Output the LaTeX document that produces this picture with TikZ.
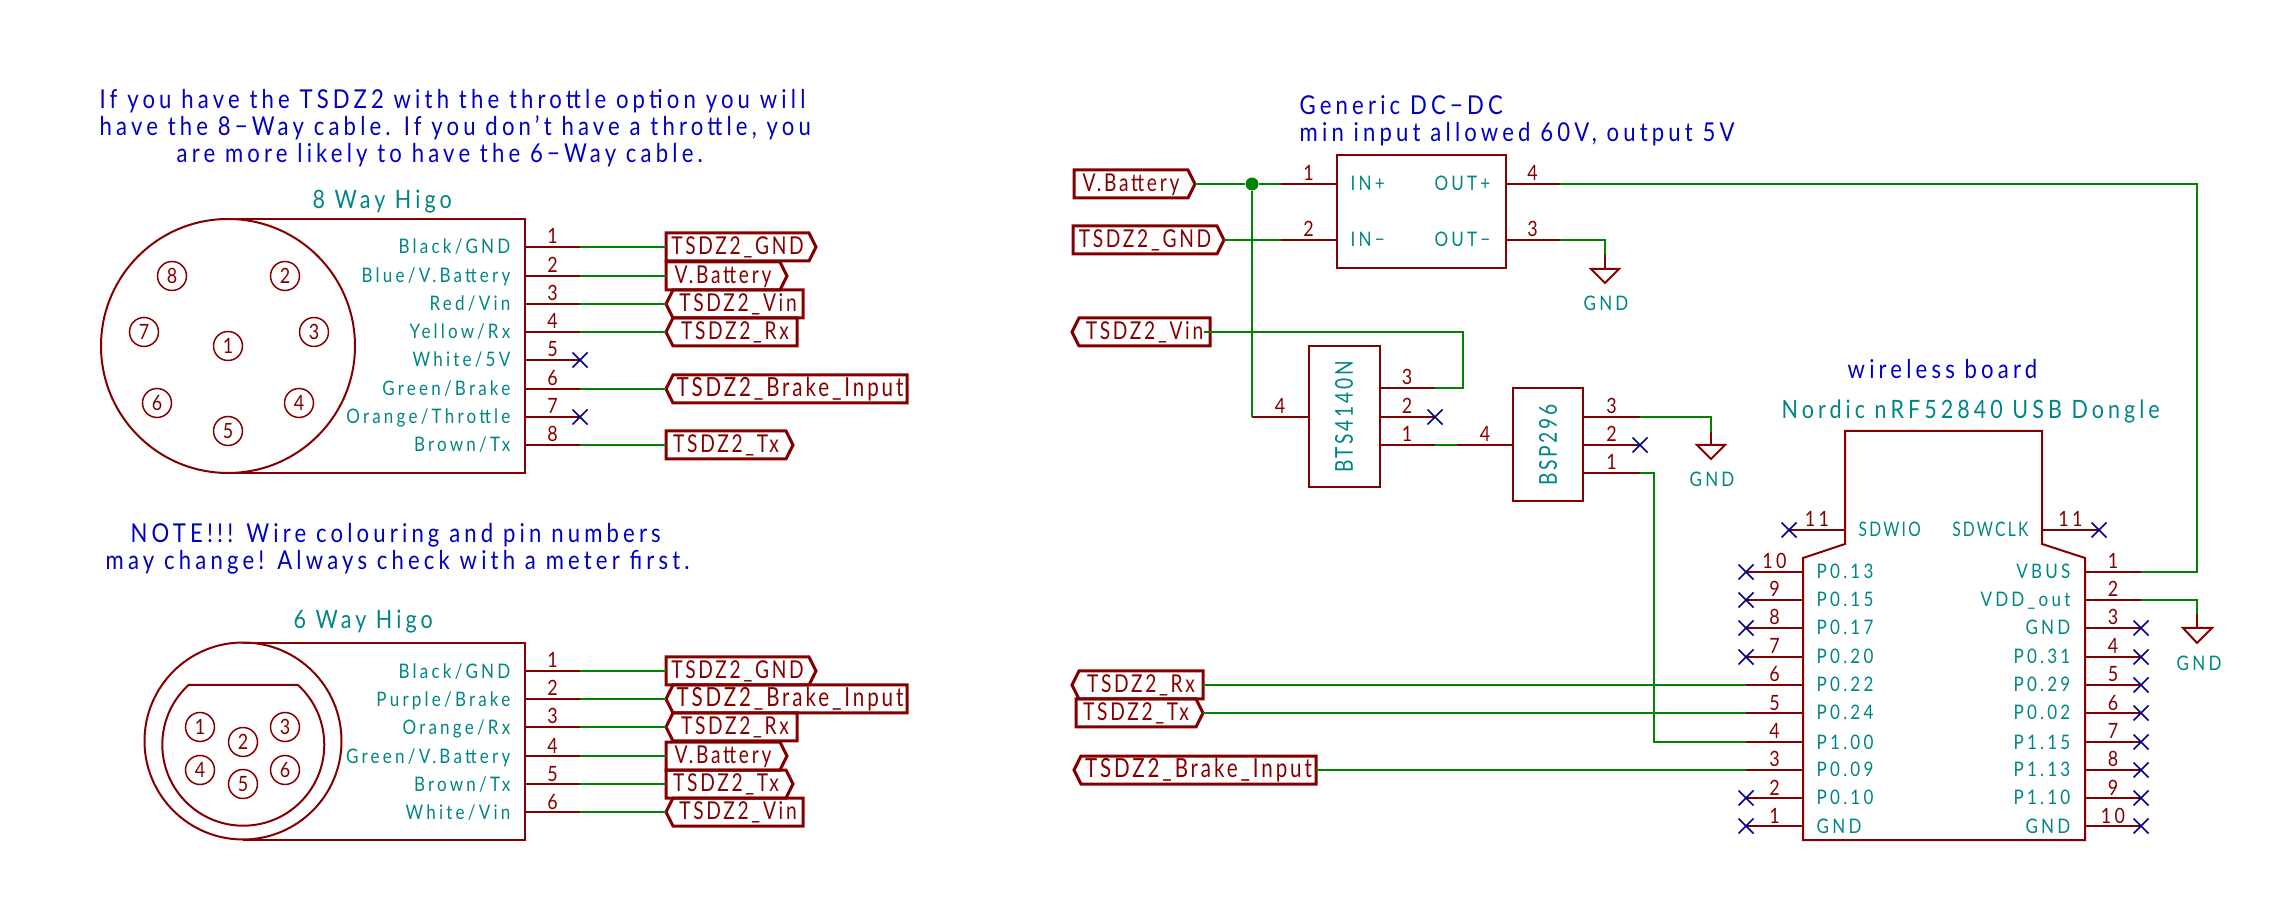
\documentclass[tikz,border=0pt]{standalone}
\usepackage{fontspec}
\setmainfont[FakeStretch=0.85,LetterSpace=16]{Lato}
\newfontfamily\labelfont[FakeStretch=0.78,LetterSpace=11]{Lato}
\usetikzlibrary{shapes.symbols, shapes.misc}
\definecolor{partred}{HTML}{840000}
\definecolor{wiregreen}{HTML}{008400}
\definecolor{pintext}{HTML}{008484}
\definecolor{notecol}{HTML}{0000C2}
\definecolor{nccol}{HTML}{000084}

\begin{document}
\begin{tikzpicture}[x=0.1mm,y=-0.1mm]

\tikzset{body/.style = {draw=partred, line width=0.2mm}}
\tikzset{pin/.style = {draw=partred, line width=0.2mm}}
\tikzset{wire/.style = {draw=wiregreen, line width=0.18mm}}
\tikzset{pinnum/.style = {text=partred, anchor=base, yshift=0.3mm, inner sep=0, font=\fontsize{6}{7}\selectfont}}
\tikzset{pinname/.style = {text=pintext, anchor=base east, inner sep=0, font=\fontsize{5.7}{7}\selectfont}}
\tikzset{pinnamel/.style = {text=pintext, anchor=base west, inner sep=0, font=\fontsize{5.7}{7}\selectfont}}
\tikzset{capsname/.style = {font=\labelfont\fontsize{5.7}{7}\selectfont}}
\tikzset{partname/.style = {text=pintext, anchor=base west, inner sep=0, font=\fontsize{7.2}{8}\selectfont}}
\tikzset{gndname/.style = {text=pintext, anchor=base, inner sep=0, font=\fontsize{5.7}{7}\selectfont}}
\tikzset{note/.style = {text=notecol, anchor=base west, inner sep=0, font=\fontsize{7.4}{8}\selectfont}}
\tikzset{pad/.style = {shape=circle, draw=partred, line width=0.15mm, text=partred, minimum size=2.9mm, inner sep=0, font=\fontsize{6}{7}\selectfont}}
\tikzset{nc/.style = {shape=cross out, draw=nccol, line width=0.15mm, minimum size=1.5mm, inner sep=0, outer sep=0}}
\tikzset{partbox/.style = {shape=rectangle, draw=partred, line width=0.2mm, inner sep=0, outer sep=0}}
\tikzset{junction/.style = {shape=circle, fill=wiregreen, minimum size=1.3mm, inner sep=0}}
\tikzset{netlabel/.style = {shape=signal, draw=partred, line width=0.3mm, text=partred, signal pointer angle=127, anchor=west, minimum height=2.8mm, inner sep=0, outer sep=0, text height=1.8mm, text depth=0.3mm, font=\labelfont\fontsize{7}{8}\selectfont}}
\tikzset{outlabel/.style = {netlabel, signal to=east}}
\tikzset{inlabel/.style = {netlabel, signal to=west}}
\tikzset{longlabel/.style = {font=\labelfont\fontsize{7.5}{8}\selectfont}}

\useasboundingbox (0,0) rectangle (2288,921);

%notes
\node[note] (note1) at (99,109) {If you have the TSDZ2 with the throttle option you will};
\node[note] (note2) at (99,136) {have the 8−Way cable. If you don't have a throttle, you};
\node[note] (note3) at (176,163) {are more likely to have the 6−Way cable.};
\node[note] (note4) at (130,543) {NOTE!!! Wire colouring and pin numbers};
\node[note] (note5) at (105,570) {may change! Always check with a meter first.};
\node[note] (note6) at (1299,115) {Generic DC−DC};
\node[note] (note7) at (1299,142) {min input allowed 60V, output 5V};
\node[note] (note8) at (1847,379) {wireless board};

%8 way connector
\node[partname] (way8) at (312,209) {8 Way Higo};
\draw[body] (228,219) -- (525,219) -- (525,473) -- (228,473);
\draw[body] (228,346) circle[radius=12.7mm];
\node[pad] (c1) at (228,346) {1};
\node[pad] (c2) at (285,276) {2};
\node[pad] (c3) at (314,332) {3};
\node[pad] (c4) at (299,403) {4};
\node[pad] (c5) at (228,431) {5};
\node[pad] (c6) at (157,403) {6};
\node[pad] (c7) at (144,332) {7};
\node[pad] (c8) at (172,276) {8};
\coordinate (a1) at (525,247);
\coordinate (a2) at (525,276);
\coordinate (a3) at (525,304);
\coordinate (a4) at (525,332);
\coordinate (a5) at (525,360);
\coordinate (a6) at (525,389);
\coordinate (a7) at (525,417);
\coordinate (a8) at (525,445);
\node[pinname] (a1t) at (511,254) {Black/GND};
\node[pinname] (a2t) at (511,283) {Blue/V.Battery};
\node[pinname] (a3t) at (511,311) {Red/Vin};
\node[pinname] (a4t) at (511,339) {Yellow/Rx};
\node[pinname] (a5t) at (511,367) {White/5V};
\node[pinname] (a6t) at (511,396) {Green/Brake};
\node[pinname] (a7t) at (511,424) {Orange/Throttle};
\node[pinname] (a8t) at (511,452) {Brown/Tx};
\draw[pin] (a1) -- ++(55,0) node[pinnum, midway] (a1n) {1} coordinate (a1e);
\draw[pin] (a2) -- ++(55,0) node[pinnum, midway] (a2n) {2} coordinate (a2e);
\draw[pin] (a3) -- ++(55,0) node[pinnum, midway] (a3n) {3} coordinate (a3e);
\draw[pin] (a4) -- ++(55,0) node[pinnum, midway] (a4n) {4} coordinate (a4e);
\draw[pin] (a5) -- ++(55,0) node[pinnum, midway] (a5n) {5} coordinate (a5e);
\draw[pin] (a6) -- ++(55,0) node[pinnum, midway] (a6n) {6} coordinate (a6e);
\draw[pin] (a7) -- ++(55,0) node[pinnum, midway] (a7n) {7} coordinate (a7e);
\draw[pin] (a8) -- ++(55,0) node[pinnum, midway] (a8n) {8} coordinate (a8e);
\node[nc] (a5x) at (a5e) {};
\node[nc] (a7x) at (a7e) {};
\node[outlabel, minimum width=15mm] (la1) at (666,247) {TSDZ2\_GND};
\node[outlabel, minimum width=12.1mm] (la2) at (666,276) {V.Battery};
\node[inlabel, minimum width=13.7mm] (la3) at (666,304) {TSDZ2\_Vin};
\node[inlabel, minimum width=13.1mm] (la4) at (666,332) {TSDZ2\_Rx};
\node[inlabel, longlabel, minimum width=24.1mm] (la6) at (666,389) {TSDZ2\_Brake\_Input};
\node[outlabel, minimum width=12.7mm] (la8) at (666,445) {TSDZ2\_Tx};
\draw[wire] (a1e) -- (la1.west);
\draw[wire] (a2e) -- (la2.west);
\draw[wire] (a3e) -- (la3.west);
\draw[wire] (a4e) -- (la4.west);
\draw[wire] (a6e) -- (la6.west);
\draw[wire] (a8e) -- (la8.west);

%6 way connector
\node[partname] (way6) at (293,629) {6 Way Higo};
\draw[body] (243,643) -- (525,643) -- (525,840) -- (243,840);
\draw[body] (243,741) circle[radius=9.85mm];
\draw[body] (188,685) -- (298,685) arc[start angle=47.5, end angle=-227.5, radius=8.1mm];
\node[pad] (e1) at (200,727) {1};
\node[pad] (e2) at (243,742) {2};
\node[pad] (e3) at (285,727) {3};
\node[pad] (e4) at (200,770) {4};
\node[pad] (e5) at (243,784) {5};
\node[pad] (e6) at (285,770) {6};
\coordinate (b1) at (525,671);
\coordinate (b2) at (525,699);
\coordinate (b3) at (525,727);
\coordinate (b4) at (525,756);
\coordinate (b5) at (525,784);
\coordinate (b6) at (525,812);
\node[pinname] (b1t) at (511,678) {Black/GND};
\node[pinname] (b2t) at (511,706) {Purple/Brake};
\node[pinname] (b3t) at (511,734) {Orange/Rx};
\node[pinname] (b4t) at (511,763) {Green/V.Battery};
\node[pinname] (b5t) at (511,791) {Brown/Tx};
\node[pinname] (b6t) at (511,819) {White/Vin};
\draw[pin] (b1) -- ++(55,0) node[pinnum, midway] (b1n) {1} coordinate (b1e);
\draw[pin] (b2) -- ++(55,0) node[pinnum, midway] (b2n) {2} coordinate (b2e);
\draw[pin] (b3) -- ++(55,0) node[pinnum, midway] (b3n) {3} coordinate (b3e);
\draw[pin] (b4) -- ++(55,0) node[pinnum, midway] (b4n) {4} coordinate (b4e);
\draw[pin] (b5) -- ++(55,0) node[pinnum, midway] (b5n) {5} coordinate (b5e);
\draw[pin] (b6) -- ++(55,0) node[pinnum, midway] (b6n) {6} coordinate (b6e);
\node[outlabel, minimum width=15mm] (lb1) at (666,671) {TSDZ2\_GND};
\node[inlabel, longlabel, minimum width=24.1mm] (lb2) at (666,699) {TSDZ2\_Brake\_Input};
\node[inlabel, minimum width=13.1mm] (lb3) at (666,727) {TSDZ2\_Rx};
\node[outlabel, minimum width=12.1mm] (lb4) at (666,756) {V.Battery};
\node[outlabel, minimum width=12.7mm] (lb5) at (666,784) {TSDZ2\_Tx};
\node[inlabel, minimum width=13.7mm] (lb6) at (666,812) {TSDZ2\_Vin};
\draw[wire] (b1e) -- (lb1.west);
\draw[wire] (b2e) -- (lb2.west);
\draw[wire] (b3e) -- (lb3.west);
\draw[wire] (b4e) -- (lb4.west);
\draw[wire] (b5e) -- (lb5.west);
\draw[wire] (b6e) -- (lb6.west);

%dc-dc
\node[partbox, minimum width=16.9mm, minimum height=11.3mm] (dcdc) at (1421,212) {};
\node[pinnamel] (d1t) at (1350,191) {IN+};
\node[pinnamel] (d2t) at (1350,247) {IN−};
\node[pinname] (d4t) at (1491,191) {OUT+};
\node[pinname] (d3t) at (1491,247) {OUT−};
\coordinate (d1) at (1336,184);
\coordinate (d2) at (1336,240);
\coordinate (d3) at (1505,240);
\coordinate (d4) at (1505,184);
\draw[pin] (d1) -- ++(-55,0) node[pinnum, midway] (d1n) {1} coordinate (d1e);
\draw[pin] (d2) -- ++(-55,0) node[pinnum, midway] (d2n) {2} coordinate (d2e);
\draw[pin] (d3) -- ++(55,0) node[pinnum, midway] (d3n) {3} coordinate (d3e);
\draw[pin] (d4) -- ++(55,0) node[pinnum, midway] (d4n) {4} coordinate (d4e);
\node[outlabel, minimum width=12.1mm] (lvbat) at (1074,184) {V.Battery};
\node[outlabel, minimum width=15.1mm] (lgnd) at (1073,240) {TSDZ2\_GND};
\node[inlabel, minimum width=13.8mm] (lvin) at (1072,332) {TSDZ2\_Vin};
\node[junction] (jbat) at (1252,184) {};
\draw[wire] (lvbat.east) -- (jbat) -- (d1e);
\draw[wire] (lgnd.east) -- (d2e);

%bts4140n
\node[partbox, minimum width=7.1mm, minimum height=14.1mm] (bts) at (1344,417) {};
\node[partname, anchor=center, rotate=90, font=\labelfont\fontsize{7}{8}\selectfont] (btst) at (1344,417) {BTS4140N};
\coordinate (f3) at (1379,388);
\coordinate (f2) at (1379,417);
\coordinate (f1) at (1379,445);
\coordinate (f4) at (1308,417);
\draw[pin] (f3) -- ++(56,0) node[pinnum, midway] (f3n) {3} coordinate (f3e);
\draw[pin] (f2) -- ++(56,0) node[pinnum, midway] (f2n) {2} coordinate (f2e);
\draw[pin] (f1) -- ++(56,0) node[pinnum, midway] (f1n) {1} coordinate (f1e);
\draw[pin] (f4) -- ++(-56,0) node[pinnum, midway] (f4n) {4} coordinate (f4e);
\node[nc] (f2x) at (f2e) {};
\draw[wire] (jbat) -- (f4e);
\coordinate (vinc) at (1463,332);
\coordinate (vind) at (1463,388);
\draw[wire] ([xshift=-0.6mm]lvin.east) -- (vinc) -- (vind) -- (f3e);

%bsp296
\node[partbox, minimum width=7mm, minimum height=11.3mm] (bsp) at (1548,445) {};
\node[partname, anchor=center, rotate=90, font=\labelfont\fontsize{7}{8}\selectfont] (bspt) at (1548,445) {BSP296};
\coordinate (g3) at (1583,417);
\coordinate (g2) at (1583,445);
\coordinate (g1) at (1583,473);
\coordinate (g4) at (1513,445);
\draw[pin] (g3) -- ++(57,0) node[pinnum, midway] (g3n) {3} coordinate (g3e);
\draw[pin] (g2) -- ++(57,0) node[pinnum, midway] (g2n) {2} coordinate (g2e);
\draw[pin] (g1) -- ++(57,0) node[pinnum, midway] (g1n) {1} coordinate (g1e);
\draw[pin] (g4) -- ++(-56,0) node[pinnum, midway] (g4n) {4} coordinate (g4e);
\node[nc] (g2x) at (g2e) {};
\draw[wire] (f1e) -- (g4e);

%gnd symbols
\coordinate (p1) at (1605,269);
\coordinate (p1c) at (1605,240);
\coordinate (p1w) at (1605,255);
\draw[pin] (p1w) -- (p1);
\draw[wire] (d3e) -- (p1c) -- (p1w);
\draw[pin] (1591,269) -- (1619,269) -- (1605,283) -- cycle;
\node[gndname] (p1t) at (1606,311) {GND};
\coordinate (p2) at (1711,445);
\coordinate (p2c) at (1711,417);
\coordinate (p2w) at (1711,432);
\draw[pin] (p2w) -- (p2);
\draw[wire] (g3e) -- (p2c) -- (p2w);
\draw[pin] (1697,445) -- (1725,445) -- (1711,459) -- cycle;
\node[gndname] (p2t) at (1712,487) {GND};

%nordic dongle
\node[partname] (mcut) at (1781,419) {Nordic nRF52840 USB Dongle};
\draw[body] (1845,431) -- (2042,431) -- (2042,544) -- (2085,558) -- (2085,840) -- (1803,840) -- (1803,558) -- (1845,544) -- cycle;
\coordinate (s1) at (1845,530);
\coordinate (s2) at (2042,530);
\node[pinnamel, capsname] (s1t) at (1858,537) {SDWIO};
\node[pinname, capsname] (s2t) at (2029,537) {SDWCLK};
\draw[pin] (s1) -- ++(-56,0) node[pinnum, midway] (s1n) {11} coordinate (s1e);
\draw[pin] (s2) -- ++(57,0) node[pinnum, midway] (s2n) {11} coordinate (s2e);
\node[nc] (s1x) at (s1e) {};
\node[nc] (s2x) at (s2e) {};
%left side
\coordinate (l10) at (1803,572);
\coordinate (l9) at (1803,600);
\coordinate (l8) at (1803,628);
\coordinate (l7) at (1803,657);
\coordinate (l6) at (1803,685);
\coordinate (l5) at (1803,713);
\coordinate (l4) at (1803,742);
\coordinate (l3) at (1803,770);
\coordinate (l2) at (1803,798);
\coordinate (l1) at (1803,826);
\node[pinnamel] (l10t) at (1816,579) {P0.13};
\node[pinnamel] (l9t) at (1816,607) {P0.15};
\node[pinnamel] (l8t) at (1816,635) {P0.17};
\node[pinnamel] (l7t) at (1816,664) {P0.20};
\node[pinnamel] (l6t) at (1816,692) {P0.22};
\node[pinnamel] (l5t) at (1816,720) {P0.24};
\node[pinnamel] (l4t) at (1816,749) {P1.00};
\node[pinnamel] (l3t) at (1816,777) {P0.09};
\node[pinnamel] (l2t) at (1816,805) {P0.10};
\node[pinnamel] (l1t) at (1816,833) {GND};
\draw[pin] (l10) -- ++(-57,0) node[pinnum, midway] (l10n) {10} coordinate (l10e);
\draw[pin] (l9) -- ++(-57,0) node[pinnum, midway] (l9n) {9} coordinate (l9e);
\draw[pin] (l8) -- ++(-57,0) node[pinnum, midway] (l8n) {8} coordinate (l8e);
\draw[pin] (l7) -- ++(-57,0) node[pinnum, midway] (l7n) {7} coordinate (l7e);
\draw[pin] (l6) -- ++(-57,0) node[pinnum, midway] (l6n) {6} coordinate (l6e);
\draw[pin] (l5) -- ++(-57,0) node[pinnum, midway] (l5n) {5} coordinate (l5e);
\draw[pin] (l4) -- ++(-57,0) node[pinnum, midway] (l4n) {4} coordinate (l4e);
\draw[pin] (l3) -- ++(-57,0) node[pinnum, midway] (l3n) {3} coordinate (l3e);
\draw[pin] (l2) -- ++(-57,0) node[pinnum, midway] (l2n) {2} coordinate (l2e);
\draw[pin] (l1) -- ++(-57,0) node[pinnum, midway] (l1n) {1} coordinate (l1e);
\node[nc] (l10x) at (l10e) {};
\node[nc] (l9x) at (l9e) {};
\node[nc] (l8x) at (l8e) {};
\node[nc] (l7x) at (l7e) {};
\node[nc] (l2x) at (l2e) {};
\node[nc] (l1x) at (l1e) {};
%right side
\coordinate (r1) at (2085,572);
\coordinate (r2) at (2085,600);
\coordinate (r3) at (2085,628);
\coordinate (r4) at (2085,657);
\coordinate (r5) at (2085,685);
\coordinate (r6) at (2085,713);
\coordinate (r7) at (2085,742);
\coordinate (r8) at (2085,770);
\coordinate (r9) at (2085,798);
\coordinate (r10) at (2085,826);
\node[pinname] (r1t) at (2071,579) {VBUS};
\node[pinname] (r2t) at (2071,607) {VDD\_out};
\node[pinname] (r3t) at (2071,635) {GND};
\node[pinname] (r4t) at (2071,664) {P0.31};
\node[pinname] (r5t) at (2071,692) {P0.29};
\node[pinname] (r6t) at (2071,720) {P0.02};
\node[pinname] (r7t) at (2071,749) {P1.15};
\node[pinname] (r8t) at (2071,777) {P1.13};
\node[pinname] (r9t) at (2071,805) {P1.10};
\node[pinname] (r10t) at (2071,833) {GND};
\draw[pin] (r1) -- ++(56,0) node[pinnum, midway] (r1n) {1} coordinate (r1e);
\draw[pin] (r2) -- ++(56,0) node[pinnum, midway] (r2n) {2} coordinate (r2e);
\draw[pin] (r3) -- ++(56,0) node[pinnum, midway] (r3n) {3} coordinate (r3e);
\draw[pin] (r4) -- ++(56,0) node[pinnum, midway] (r4n) {4} coordinate (r4e);
\draw[pin] (r5) -- ++(56,0) node[pinnum, midway] (r5n) {5} coordinate (r5e);
\draw[pin] (r6) -- ++(56,0) node[pinnum, midway] (r6n) {6} coordinate (r6e);
\draw[pin] (r7) -- ++(56,0) node[pinnum, midway] (r7n) {7} coordinate (r7e);
\draw[pin] (r8) -- ++(56,0) node[pinnum, midway] (r8n) {8} coordinate (r8e);
\draw[pin] (r9) -- ++(56,0) node[pinnum, midway] (r9n) {9} coordinate (r9e);
\draw[pin] (r10) -- ++(56,0) node[pinnum, midway] (r10n) {10} coordinate (r10e);
\node[nc] (r3x) at (r3e) {};
\node[nc] (r4x) at (r4e) {};
\node[nc] (r5x) at (r5e) {};
\node[nc] (r6x) at (r6e) {};
\node[nc] (r7x) at (r7e) {};
\node[nc] (r8x) at (r8e) {};
\node[nc] (r9x) at (r9e) {};
\node[nc] (r10x) at (r10e) {};
%gnd on vdd
\coordinate (p3) at (2197,628);
\coordinate (p3c) at (2197,600);
\coordinate (p3w) at (2197,614);
\draw[pin] (p3w) -- (p3);
\draw[wire] (r2e) -- (p3c) -- (p3w);
\draw[pin] (2183,628) -- (2212,628) -- (2197,643) -- cycle;
\node[gndname] (p3t) at (2199,671) {GND};

%wires to the dongle
\node[inlabel, minimum width=13.1mm] (lrx) at (1072,685) {TSDZ2\_Rx};
\node[outlabel, minimum width=12.7mm] (ltx) at (1076,713) {TSDZ2\_Tx};
\node[inlabel, longlabel, minimum width=24.2mm] (lbrake) at (1074,770) {TSDZ2\_Brake\_Input};
\draw[wire] (lrx.east) -- (l6e);
\draw[wire] (ltx.east) -- (l5e);
\draw[wire] (lbrake.east) -- (l3e);
\coordinate (bsp1) at (1654,473);
\coordinate (bsp2) at (1654,742);
\draw[wire] (g1e) -- (bsp1) -- (bsp2) -- (l4e);
\coordinate (vbus1) at (2197,572);
\coordinate (vbus2) at (2197,184);
\draw[wire] (d4e) -- (vbus2) -- (vbus1) -- (r1e);

\end{tikzpicture}
\end{document}
